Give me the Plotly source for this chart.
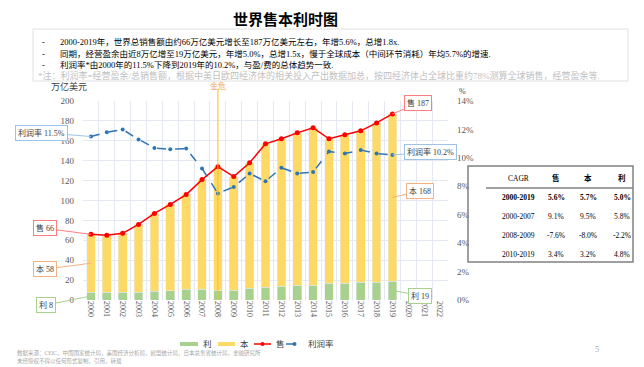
import plotly.graph_objects as go

# ---------------- data ----------------
years = [str(y) for y in range(2000, 2023)]
data_years = [str(y) for y in range(2000, 2020)]
sales = [66, 65, 67, 76, 87, 96, 106, 121, 134, 124, 138, 157, 162, 168, 173, 162, 166, 170, 178, 187]
profit = [8, 8, 8, 8, 9, 9.5, 11, 11, 10, 10, 12, 13, 14, 15, 15, 17, 17, 18, 18, 19]
cost = [58, 57, 59, 68, 78, 86.5, 95, 110, 124, 114, 126, 144, 148, 153, 158, 145, 149, 152, 160, 168]
rate = [11.5, 11.8, 12.0, 11.3, 10.7, 10.6, 10.65, 9.25, 7.5, 7.95, 8.9, 8.35, 9.3, 8.9, 9.0, 10.45, 10.3, 10.55, 10.3, 10.2]
crisis_year = "2008"

table_header = ["CAGR", "售", "本", "利"]
table_rows = [
    ["2000-2019", "5.6%", "5.7%", "5.0%"],
    ["2000-2007", "9.1%", "9.5%", "5.8%"],
    ["2008-2009", "-7.6%", "-8.0%", "-2.2%"],
    ["2010-2019", "3.4%", "3.2%", "4.8%"],
]

bullets = [
    "2000-2019年，世界总销售额由约66万亿美元增长至187万亿美元左右，年增5.6%，总增1.8x.",
    "同期，经营盈余由近8万亿增至19万亿美元，年增5.0%，总增1.5x，慢于全球成本（中间环节消耗）年均5.7%的增速.",
    "利润率*由2000年的11.5%下降到2019年的10.2%，与盈/费的总体趋势一致.",
]
note = "*注：利润率=经营盈余/总销售额，根据中美日欧四经济体的相关投入产出数据加总，按四经济体占全球比重约78%测算全球销售，经营盈余等."

GREEN = "#A9D18E"
YELLOW = "#FFD966"
RED = "#FF0000"
BLUE = "#2E75B6"
FONT = "Liberation Serif, Noto Sans CJK SC, serif"
TXT = "#404040"

W, H = 644, 367
L, R, T, B = 83, 448, 101, 300


def px(x):
    return (x - L) / (R - L)


def py(y):
    return (B - y) / (B - T)


def cat(year):
    return years.index(year)


fig = go.Figure()
fig.add_trace(go.Bar(x=data_years, y=profit, name="利", marker_color=GREEN, yaxis="y"))
fig.add_trace(go.Bar(x=data_years, y=cost, name="本", marker_color=YELLOW, yaxis="y"))
fig.add_trace(go.Scatter(x=data_years, y=sales, name="售", mode="lines+markers",
                         line=dict(color=RED, width=1.5), marker=dict(color=RED, size=5), yaxis="y"))
fig.add_trace(go.Scatter(x=data_years, y=rate, name="利润率", mode="lines+markers",
                         line=dict(color=BLUE, width=1.5, dash="dash"),
                         marker=dict(color=BLUE, size=4), yaxis="y2"))

annotations = []
shapes = []


def label(text, x, y, size=9, color=TXT, xanchor="center"):
    annotations.append(dict(text=text, x=px(x), y=py(y), xref="paper", yref="paper", showarrow=False,
                            xanchor=xanchor, yanchor="middle",
                            font=dict(size=size, family=FONT, color=color)))


# title
label("<b>世界售本利时图</b>", 285, 20, size=15, color="#000000")
# text box
shapes.append(dict(type="rect", xref="paper", yref="paper", x0=px(33), x1=px(628), y0=py(29), y1=py(81),
                   line=dict(color="#E0E0E0", width=1), fillcolor="rgba(0,0,0,0)"))
for i, t in enumerate(bullets):
    yy = 42 + i * 11.5
    label("-", 40, yy, size=8.5, color="#000000", xanchor="left")
    label(t, 58, yy, size=8.5, color="#000000", xanchor="left")
label(note, 36, 75.5, size=9, color="#BFBFBF", xanchor="left")

# axis titles
label("万亿美元", 69, 87, size=9)
label("%", 462, 91, size=8)

# crisis line
shapes.append(dict(type="line", xref="x", yref="paper", x0=cat(crisis_year), x1=cat(crisis_year),
                   y0=0, y1=py(89), line=dict(color="#FFC000", width=1)))
annotations.append(dict(text="金危", x=cat(crisis_year), y=py(86), xref="x", yref="paper", showarrow=False,
                        xanchor="center", yanchor="middle",
                        font=dict(size=8, family=FONT, color="#F4A460")))


def callout(text, year, y, ax, ay, color, yref="y"):
    annotations.append(dict(text=text, x=cat(year), y=y, xref="x", yref=yref, ax=ax, ay=ay,
                            showarrow=True, arrowhead=0, arrowwidth=1, arrowcolor=color,
                            bordercolor=color, borderwidth=1, borderpad=2, bgcolor="#FFFFFF",
                            xanchor="center", yanchor="middle",
                            font=dict(size=8, family=FONT, color=TXT)))


callout("利润率 11.5%", "2000", rate[0], -49, -4, "#9DC3E6", yref="y2")
callout("售 66", "2000", sales[0], -46, -6, "#FF7C80")
callout("本 58", "2000", profit[0] + cost[0] / 2, -46, 6, "#F4B183")
callout("利 8", "2000", profit[0] / 2, -45, 9, GREEN)
callout("售 187", "2019", sales[-1], 26, -11, "#FF7C80")
callout("利润率 10.2%", "2019", rate[-1], 38, -3, "#9DC3E6", yref="y2")
callout("本 168", "2019", profit[-1] + cost[-1] / 2, 28, -7, "#F4B183")
callout("利 19", "2019", profit[-1] / 2, 28, 5, GREEN)

# CAGR table
shapes.append(dict(type="rect", xref="paper", yref="paper", x0=px(468), x1=px(633), y0=py(166), y1=py(262),
                   line=dict(color="#808080", width=1.5)))
shapes.append(dict(type="line", xref="paper", yref="paper", x0=px(486), x1=px(633), y0=py(188), y1=py(188),
                   line=dict(color="#808080", width=1.5)))
col_x = [518, 556, 588, 622]
for j, h in enumerate(table_header):
    label(h if j == 0 else "<b>" + h + "</b>", col_x[j], 178, size=7.5, color="#000000")
for i, row in enumerate(table_rows):
    yy = 197 + i * 19
    for j, v in enumerate(row):
        t = "<b>" + v + "</b>" if i == 0 else v
        label(t, col_x[j], yy, size=7.5, color="#000000")

# manual legend
LY = 344
legend_items = [("利", "bar", GREEN, 180, 198), ("本", "bar", YELLOW, 218, 235),
                ("售", "line", RED, 254, 271), ("利润率", "dash", BLUE, 286, 303)]
for name, kind, color, x0, x1 in legend_items:
    if kind == "bar":
        shapes.append(dict(type="rect", xref="paper", yref="paper", x0=px(x0), x1=px(x1),
                           y0=py(LY + 2), y1=py(LY - 2), line=dict(width=0), fillcolor=color))
    else:
        shapes.append(dict(type="line", xref="paper", yref="paper", x0=px(x0), x1=px(x1),
                           y0=py(LY), y1=py(LY),
                           line=dict(color=color, width=1.5, dash="solid" if kind == "line" else "dash")))
        xm = (x0 + x1) / 2
        shapes.append(dict(type="circle", xref="paper", yref="paper", x0=px(xm - 2), x1=px(xm + 2),
                           y0=py(LY + 2), y1=py(LY - 2), line=dict(width=0), fillcolor=color))
    label(name, x1 + 3, LY, size=8.5, color=TXT, xanchor="left")

# footer
label("数据来源：CEIC，中国国家统计局，美国经济分析局，欧盟统计局，日本总务省统计局，金融研究所",
      15, 353, size=5.5, color="#A6A6A6", xanchor="left")
label("未经授权不得以任何形式复制，引用，转载", 15, 361, size=5.5, color="#A6A6A6", xanchor="left")
label("5", 597, 349, size=8, color="#A6A6A6")

fig.update_layout(
    width=W, height=H,
    margin=dict(l=L, r=W - R, t=T, b=H - B, autoexpand=False),
    paper_bgcolor="#FFFFFF", plot_bgcolor="#FFFFFF",
    barmode="stack", bargap=0.45,
    font=dict(family=FONT, color=TXT, size=9),
    showlegend=False,
    xaxis=dict(type="category", categoryorder="array", categoryarray=years, tickvals=years,
               tickangle=90, tickfont=dict(size=8, color="#595959"), showgrid=True, gridcolor="#E4E8F0",
               tickson="boundaries", ticks="", showline=False, zeroline=False, range=[-0.5, 22.5]),
    yaxis=dict(range=[0, 200], dtick=20, showgrid=True, gridcolor="#E4E8F0", zeroline=False,
               tickfont=dict(size=9, color="#595959"), ticklabelstandoff=8, showline=False),
    yaxis2=dict(range=[0, 14], dtick=2, overlaying="y", side="right", ticksuffix="%",
                showgrid=False, zeroline=False, tickfont=dict(size=9, color="#595959"),
                ticklabelstandoff=8),
    annotations=annotations,
    shapes=shapes,
)

fig.write_html("out.html", config={"displayModeBar": False},
               post_script="document.body.style.margin='0';document.body.style.overflow='hidden';")
